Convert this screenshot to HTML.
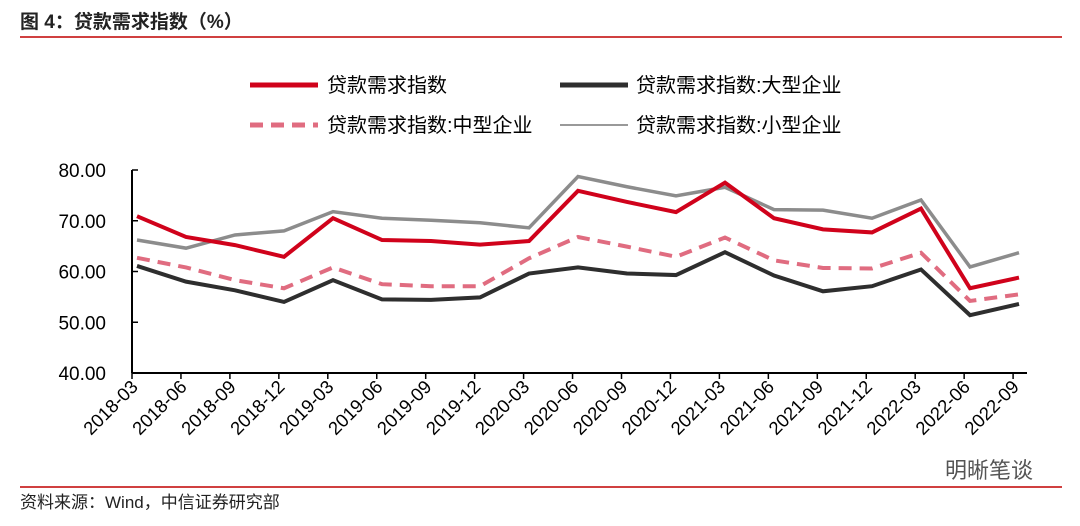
<!DOCTYPE html>
<html><head><meta charset="utf-8"><style>
body{margin:0;background:#fff;font-family:"Liberation Sans","Noto Sans CJK SC",sans-serif}
svg text{font-family:"Liberation Sans","Noto Sans CJK SC",sans-serif}
</style></head><body>
<svg id="c" width="1080" height="521" xmlns="http://www.w3.org/2000/svg">
<text x="20" y="28" font-size="19" font-weight="bold" fill="#222">图 4：贷款需求指数（%）</text>
<line x1="20" y1="37" x2="1062" y2="37" stroke="#c00000" stroke-width="1.5"/>
<line x1="20" y1="487" x2="1062" y2="487" stroke="#c00000" stroke-width="1.5"/>
<text x="20" y="508" font-size="17" fill="#222">资料来源：Wind，中信证券研究部</text>
<text x="945" y="478" font-size="22" fill="#555">明晰笔谈</text>
<g>
<line x1="250" y1="85" x2="318" y2="85" stroke="#d0021b" stroke-width="5"/>
<text x="327" y="92" font-size="20">贷款需求指数</text>
<line x1="560" y1="85" x2="628" y2="85" stroke="#2e2e2e" stroke-width="5"/>
<text x="636" y="92" font-size="20">贷款需求指数:大型企业</text>
<line x1="250" y1="125" x2="318" y2="125" stroke="#e06c80" stroke-width="5" stroke-dasharray="13,8"/>
<text x="327" y="132" font-size="20">贷款需求指数:中型企业</text>
<line x1="560" y1="125" x2="628" y2="125" stroke="#999" stroke-width="2"/>
<text x="636" y="132" font-size="20">贷款需求指数:小型企业</text>
</g>
<g id="plot"></g>
</svg>
<script>
const categories=["2018-03","2018-06","2018-09","2018-12","2019-03","2019-06","2019-09","2019-12","2020-03","2020-06","2020-09","2020-12","2021-03","2021-06","2021-09","2021-12","2022-03","2022-06","2022-09"];
const totalValues=[70.9,66.8,65.2,62.9,70.5,66.2,66.0,65.3,66.0,75.9,73.7,71.7,77.5,70.5,68.3,67.7,72.4,56.7,58.8];
const largeValues=[61.1,58.0,56.3,54.0,58.3,54.5,54.4,54.9,59.6,60.8,59.6,59.3,63.8,59.2,56.1,57.1,60.4,51.4,53.6];
const mediumValues=[62.7,60.8,58.3,56.7,60.8,57.5,57.1,57.1,62.6,66.8,64.9,62.9,66.7,62.2,60.7,60.6,63.7,54.2,55.5];
const smallValues=[66.2,64.6,67.2,68.0,71.8,70.5,70.1,69.6,68.6,78.7,76.7,74.9,76.6,72.2,72.1,70.5,74.1,60.9,63.7];
const yTicks=[40,50,60,70,80];
const NS="http://www.w3.org/2000/svg";
const g=document.getElementById('plot');
const x=i=>137+i*49;
const xt=i=>132+i*48.95;
const y=v=>373-(v-40)*(203/40);
function el(t,a){const e=document.createElementNS(NS,t);for(const k in a)e.setAttribute(k,a[k]);g.appendChild(e);return e;}
let ax=el('line',{x1:132,y1:y(40),x2:132,y2:y(80),stroke:'#000','stroke-width':2});


let bx=el('line',{x1:132,y1:y(40),x2:1027,y2:y(40),stroke:'#000','stroke-width':2});


yTicks.forEach(v=>{
  let t=el('line',{x1:132,y1:y(v),x2:138,y2:y(v),stroke:'#000','stroke-width':1.5});
  
  
  let l=el('text',{x:106,y:y(v)+7,'font-size':19,'text-anchor':'end'});
  l.textContent=v.toFixed(2);
  
  
});
categories.forEach((c,i)=>{
  let t=el('line',{x1:xt(i),y1:y(40),x2:xt(i),y2:y(40)+6,stroke:'#000','stroke-width':1.5});
  
  
  let l=el('text',{x:xt(i)+7,y:y(40)+15,'font-size':18.5,'text-anchor':'end',transform:`rotate(-45 ${xt(i)+7} ${y(40)+15})`});
  l.textContent=c;
  
  
});
function series(vals,color,w,dash,name){
  const p=el('polyline',{points:vals.map((v,i)=>x(i)+','+y(v)).join(' '),fill:'none',stroke:color,'stroke-width':w,'stroke-linejoin':'miter'});
  if(dash)p.setAttribute('stroke-dasharray',dash);
  
  
}
series(largeValues,'#2e2e2e',4,null,'series-large');
series(mediumValues,'#e06c80',4,'13,8','series-medium');
series(smallValues,'#8c8c8c',3.5,null,'series-small');
series(totalValues,'#d0021b',4,null,'series-total');
</script>
</body></html>
